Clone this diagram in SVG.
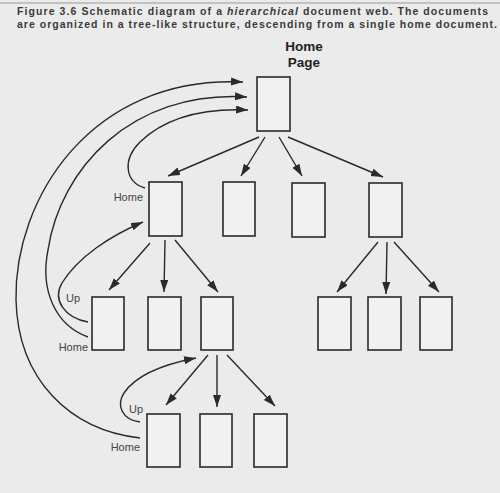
<svg xmlns="http://www.w3.org/2000/svg" width="500" height="493" viewBox="0 0 500 493">
<defs>
<style>
.bg{fill:#ebebeb}
.box{fill:#f1f1f1;stroke:#2a2a2a;stroke-width:1.6}
.ln{fill:none;stroke:#2a2a2a;stroke-width:1.4}
.lbl{font-family:"Liberation Sans",Arial,sans-serif;font-size:11px;fill:#444}
.ttl{font-family:"Liberation Sans",Arial,sans-serif;font-size:10.5px;font-weight:bold;fill:#3a3a3a}
.hp{font-family:"Liberation Sans",Arial,sans-serif;font-size:13.5px;font-weight:bold;fill:#222;text-anchor:middle}
</style>
<marker id="ah" markerUnits="userSpaceOnUse" markerWidth="13" markerHeight="9" refX="12" refY="4" orient="auto">
<path d="M0,0 L12,4 L0,8 z" fill="#2a2a2a"/>
</marker>
</defs>
<rect class="bg" x="0" y="0" width="500" height="493"/>
<line x1="0" y1="3" x2="500" y2="3" stroke="#9a9a9a" stroke-width="1.2"/>
<g id="title">
<text class="ttl" x="17" y="15" textLength="471" lengthAdjust="spacing">Figure 3.6 Schematic diagram of a <tspan font-style="italic">hierarchical</tspan> document web. The documents</text>
<text class="ttl" x="17" y="27.5" textLength="480" lengthAdjust="spacing">are organized in a tree-like structure, descending from a single home document.</text>
</g>
<g id="home">
<text class="hp" x="304" y="51">Home</text>
<text class="hp" x="304" y="67">Page</text>
<rect class="box" x="257" y="77" width="33" height="54"/>
</g>
<g id="n1a"><rect class="box" x="149" y="182" width="33" height="54"/></g>
<g id="n1b"><rect class="box" x="223" y="182" width="32" height="54"/></g>
<g id="n1c"><rect class="box" x="292" y="183" width="33" height="54"/></g>
<g id="n1d"><rect class="box" x="369" y="183" width="33" height="54"/></g>
<g id="n2a"><rect class="box" x="92" y="297" width="32" height="53"/></g>
<g id="n2b"><rect class="box" x="148" y="297" width="33" height="53"/></g>
<g id="n2c"><rect class="box" x="201" y="297" width="32" height="53"/></g>
<g id="n2d"><rect class="box" x="318" y="297" width="33" height="53"/></g>
<g id="n2e"><rect class="box" x="368" y="297" width="33" height="53"/></g>
<g id="n2f"><rect class="box" x="420" y="297" width="32" height="53"/></g>
<g id="n3a"><rect class="box" x="147" y="414" width="33" height="53"/></g>
<g id="n3b"><rect class="box" x="200" y="414" width="32" height="53"/></g>
<g id="n3c"><rect class="box" x="254" y="414" width="33" height="53"/></g>
<g id="connectors">
<line class="ln" marker-end="url(#ah)" x1="259" y1="137" x2="168" y2="176"/>
<line class="ln" marker-end="url(#ah)" x1="265" y1="137" x2="241" y2="176"/>
<line class="ln" marker-end="url(#ah)" x1="279" y1="137" x2="302" y2="176"/>
<line class="ln" marker-end="url(#ah)" x1="288" y1="137" x2="383" y2="177"/>
<line class="ln" marker-end="url(#ah)" x1="150" y1="243" x2="109" y2="290"/>
<line class="ln" marker-end="url(#ah)" x1="165" y1="240" x2="164" y2="292"/>
<line class="ln" marker-end="url(#ah)" x1="175" y1="240" x2="218" y2="292"/>
<line class="ln" marker-end="url(#ah)" x1="378" y1="242" x2="337" y2="292"/>
<line class="ln" marker-end="url(#ah)" x1="387" y1="242" x2="386" y2="294"/>
<line class="ln" marker-end="url(#ah)" x1="394" y1="242" x2="439" y2="292"/>
<line class="ln" marker-end="url(#ah)" x1="208" y1="355" x2="166" y2="405"/>
<line class="ln" marker-end="url(#ah)" x1="217" y1="355" x2="217" y2="407"/>
<line class="ln" marker-end="url(#ah)" x1="227" y1="355" x2="275" y2="406"/>
<path class="ln" marker-end="url(#ah)" d="M140,438 C70,430 18,380 16,300 C14,200 90,75 243,82"/>
<path class="ln" marker-end="url(#ah)" d="M88,337 C55,325 40,290 48,250 C60,170 130,90 247,97"/>
<path class="ln" marker-end="url(#ah)" d="M145,188 C125,182 122,160 140,142 C165,118 200,108 248,110"/>
<path class="ln" marker-end="url(#ah)" d="M88,322 C65,318 52,300 62,283 C78,257 110,236 143,222"/>
<path class="ln" marker-end="url(#ah)" d="M140,422 C122,420 116,405 124,393 C136,375 165,364 196,358"/>
</g>
<g id="labels">
<text class="lbl" x="143" y="201" text-anchor="end">Home</text>
<text class="lbl" x="88" y="351" text-anchor="end">Home</text>
<text class="lbl" x="140" y="451" text-anchor="end">Home</text>
<text class="lbl" x="66" y="302">Up</text>
<text class="lbl" x="129" y="413">Up</text>
</g>
</svg>
